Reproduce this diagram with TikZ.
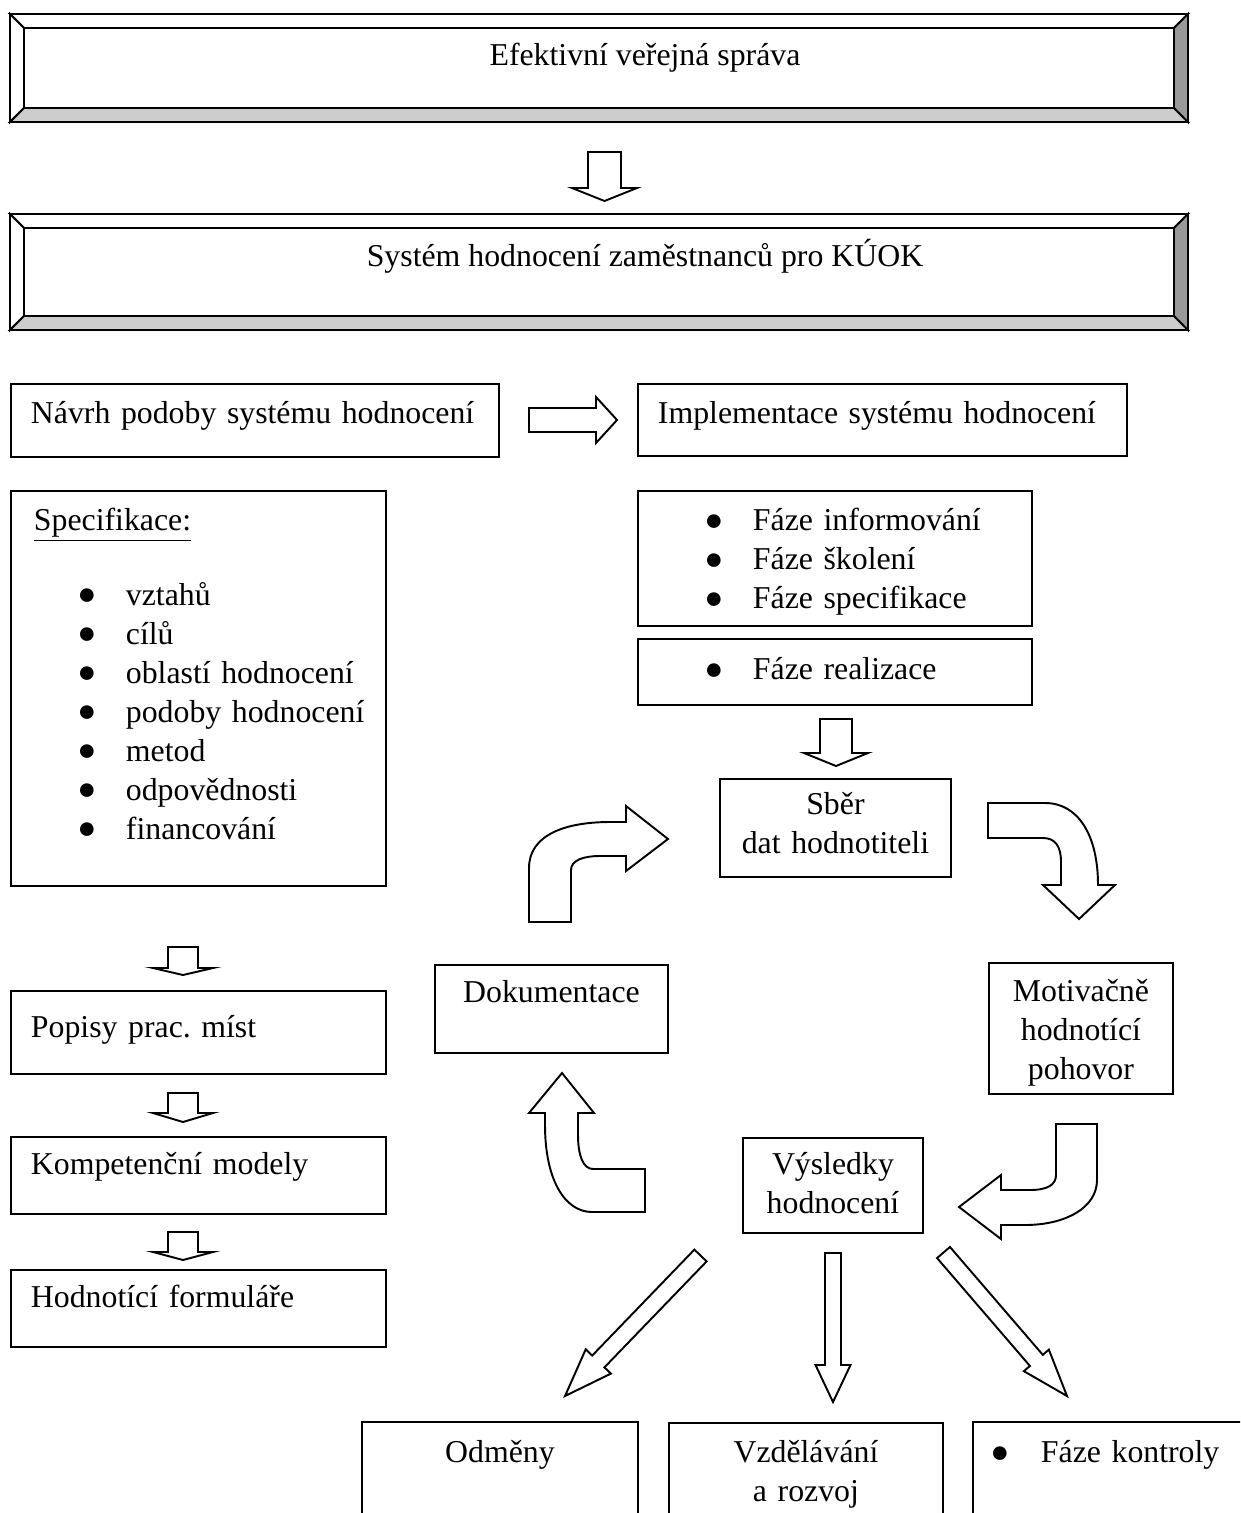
\documentclass[tikz,border=0pt]{standalone}
\usepackage{fontspec}
\setmainfont{Liberation Serif}
\usetikzlibrary{calc}

\newcommand{\tmr}{\fontsize{18.1}{22.2}\selectfont}
\newcommand{\bul}[3]{\leavevmode\hbox{\kern#1\makebox[0pt]{\raisebox{0.4pt}{\fontsize{18}{20}\selectfont ●}}\kern#2\relax #3}}
% straight block arrow: tail, tip, shaft half width, head half width, head length
\newcommand{\blockarrow}[5]{%
  \path #1 coordinate (ba-t) #2 coordinate (ba-p);
  \path ($(ba-p)!#5!(ba-t)$) coordinate (ba-h);
  \draw[blockarr] ($(ba-t)!#3!90:(ba-p)$) -- ($(ba-h)!#3!-90:(ba-t)$)
    -- ($(ba-h)!#4!-90:(ba-t)$) -- (ba-p) -- ($(ba-h)!#4!90:(ba-t)$)
    -- ($(ba-h)!#3!90:(ba-t)$) -- ($(ba-t)!#3!-90:(ba-p)$) -- cycle;
}
% framed box with shaded bevel: x1, y1, x2, y2
\newcommand{\bevelbox}[4]{%
  \filldraw[bevel,fill=white] (#1,#2) -- (#3,#2) -- ({#3-14},{#2+14}) -- ({#1+14},{#2+14}) -- cycle;
  \filldraw[bevel,fill=white] (#1,#2) -- ({#1+14},{#2+14}) -- ({#1+14},{#4-14}) -- (#1,#4) -- cycle;
  \filldraw[bevel,fill=black!20] (#1,#4) -- ({#1+14},{#4-14}) -- ({#3-14},{#4-14}) -- (#3,#4) -- cycle;
  \filldraw[bevel,fill=black!40] (#3,#2) -- (#3,#4) -- ({#3-14},{#4-14}) -- ({#3-14},{#2+14}) -- cycle;
}

\begin{document}
\begin{tikzpicture}[x=0.02cm,y=-0.02cm,
  box/.style={draw,line width=1.1pt,anchor=north west,inner ysep=0pt,inner xsep=0.4cm,font=\tmr},
  bevel/.style={draw,line width=1.1pt},
  blockarr/.style={draw,line width=1.1pt,fill=white,line join=miter}]
  \useasboundingbox (0,0) rectangle (1240,1513);
  \clip (0,0) rectangle (1240,1513);

  % top frames
  \bevelbox{10}{14}{1188}{122}
  \node[font=\tmr,anchor=base] (efekt) at (645,66) {Efektivní veřejná správa};
  \blockarrow{(604.5,152)}{(604.5,201)}{0.33cm}{0.65cm}{0.26cm}
  \bevelbox{10}{214}{1188}{330}
  \node[font=\tmr,anchor=base] (system) at (645,267) {Systém hodnocení zaměstnanců pro KÚOK};

  % design and implementation
  \node[box,text width=8.96cm,align=left,text height=0.8cm,text depth=0.66cm] (navrh) at (10,383)
    {Návrh podoby systému hodnocení};
  \blockarrow{(529,420)}{(617,420)}{0.24cm}{0.46cm}{0.42cm}
  \node[box,text width=8.98cm,align=left,text height=0.8cm,text depth=0.64cm] (impl) at (637,383)
    {Implementace systému hodnocení};

  \node[box,inner xsep=0.46cm,text width=6.58cm,align=left,text height=0.8cm,text depth=7.1cm] (spec) at (10,490)
    {\underline{Specifikace:}\\[20pt]
     \bul{1.06cm}{0.78cm}{vztahů}\\
     \bul{1.06cm}{0.78cm}{cílů}\\
     \bul{1.06cm}{0.78cm}{oblastí hodnocení}\\
     \bul{1.06cm}{0.78cm}{podoby hodnocení}\\
     \bul{1.06cm}{0.78cm}{metod}\\
     \bul{1.06cm}{0.78cm}{odpovědnosti}\\
     \bul{1.06cm}{0.78cm}{financování}};

  \node[box,text width=7.08cm,align=left,text height=0.8cm,text depth=1.9cm] (faze) at (637,490)
    {\bul{1.12cm}{0.78cm}{Fáze informování}\\
     \bul{1.12cm}{0.78cm}{Fáze školení}\\
     \bul{1.12cm}{0.78cm}{Fáze specifikace}};
  \node[box,text width=7.08cm,align=left,text height=0.82cm,text depth=0.5cm] (realiz) at (637,638)
    {\bul{1.12cm}{0.78cm}{Fáze realizace}};
  \blockarrow{(836,719)}{(836,766)}{0.32cm}{0.64cm}{0.26cm}

  % left column
  \blockarrow{(183,947)}{(183,975)}{0.3cm}{0.6cm}{0.14cm}
  \node[box,text width=6.7cm,align=left,text height=0.94cm,text depth=0.72cm] (popisy) at (10,990)
    {Popisy prac.\ míst};
  \blockarrow{(183,1093)}{(183,1122)}{0.3cm}{0.6cm}{0.18cm}
  \node[box,text width=6.7cm,align=left,text height=0.76cm,text depth=0.78cm] (kompet) at (10,1136)
    {Kompetenční modely};
  \blockarrow{(183,1232)}{(183,1260)}{0.3cm}{0.6cm}{0.16cm}
  \node[box,text width=6.7cm,align=left,text height=0.76cm,text depth=0.78cm] (hodnot) at (10,1269)
    {Hodnotící formuláře};

  % evaluation cycle
  \node[box,inner xsep=0.1cm,text width=4.42cm,align=center,text height=0.72cm,text depth=1.24cm] (sber) at (719,778)
    {Sběr\\dat hodnotiteli};
  \node[box,inner xsep=0.1cm,text width=3.48cm,align=center,text height=0.78cm,text depth=1.84cm] (motiv) at (988,962)
    {Motivačně\\hodnotící\\pohovor};
  \node[box,inner xsep=0.1cm,text width=3.4cm,align=center,text height=0.74cm,text depth=1.16cm] (vysl) at (742,1137)
    {Výsledky\\hodnocení};
  \node[box,inner xsep=0.1cm,text width=4.46cm,align=center,text height=0.76cm,text depth=1.0cm] (doku) at (434,964)
    {Dokumentace};

  \draw[blockarr] (529,922) -- (529,868) .. controls (529,835) and (565,822) .. (610,822) -- (626,822)
    -- (626,806) -- (668,839) -- (626,871) -- (626,856) -- (600,856)
    .. controls (584,856) and (571,860) .. (571,870) -- (571,922) -- cycle;
  \draw[blockarr] (988,803) -- (1045,803) .. controls (1078,803) and (1098,835) .. (1098,885)
    -- (1115,885) -- (1079,919) -- (1043,885) -- (1061,885) -- (1061,862)
    .. controls (1061,846) and (1055,838) .. (1043,838) -- (988,838) -- cycle;
  \draw[blockarr] (1056,1124) -- (1097,1124) -- (1097,1180) .. controls (1097,1208) and (1065,1225) .. (1025,1225)
    -- (1001,1225) -- (1001,1239) -- (959,1207) -- (1001,1175) -- (1001,1190) -- (1030,1190)
    .. controls (1047,1190) and (1056,1185) .. (1056,1175) -- cycle;
  \draw[blockarr] (562,1073) -- (594,1113) -- (578,1113) -- (578,1135) .. controls (578,1155) and (583,1169) .. (593,1169)
    -- (645,1169) -- (645,1212) -- (592,1212) .. controls (565,1212) and (545,1180) .. (545,1125)
    -- (545,1113) -- (529,1113) -- cycle;

  % outcomes
  \blockarrow{(700.5,1255.5)}{(565,1396)}{0.17cm}{0.35cm}{0.96cm}
  \blockarrow{(833,1253)}{(833,1402)}{0.16cm}{0.35cm}{0.74cm}
  \blockarrow{(943.5,1252.5)}{(1067,1396)}{0.17cm}{0.33cm}{0.94cm}
  \node[box,inner xsep=0.1cm,text width=5.32cm,align=center,text height=0.82cm,text depth=1.96cm] (odmeny) at (361,1421)
    {Odměny};
  \node[box,inner xsep=0.1cm,text width=5.28cm,align=center,text height=0.8cm,text depth=1.96cm] (vzdel) at (668,1422)
    {Vzdělávání\\a rozvoj};
  \node[box,text width=4.96cm,align=left,text height=0.82cm,text depth=1.96cm] (kontrol) at (972,1421)
    {\bul{0.14cm}{0.82cm}{Fáze kontroly}};
\end{tikzpicture}
\end{document}
